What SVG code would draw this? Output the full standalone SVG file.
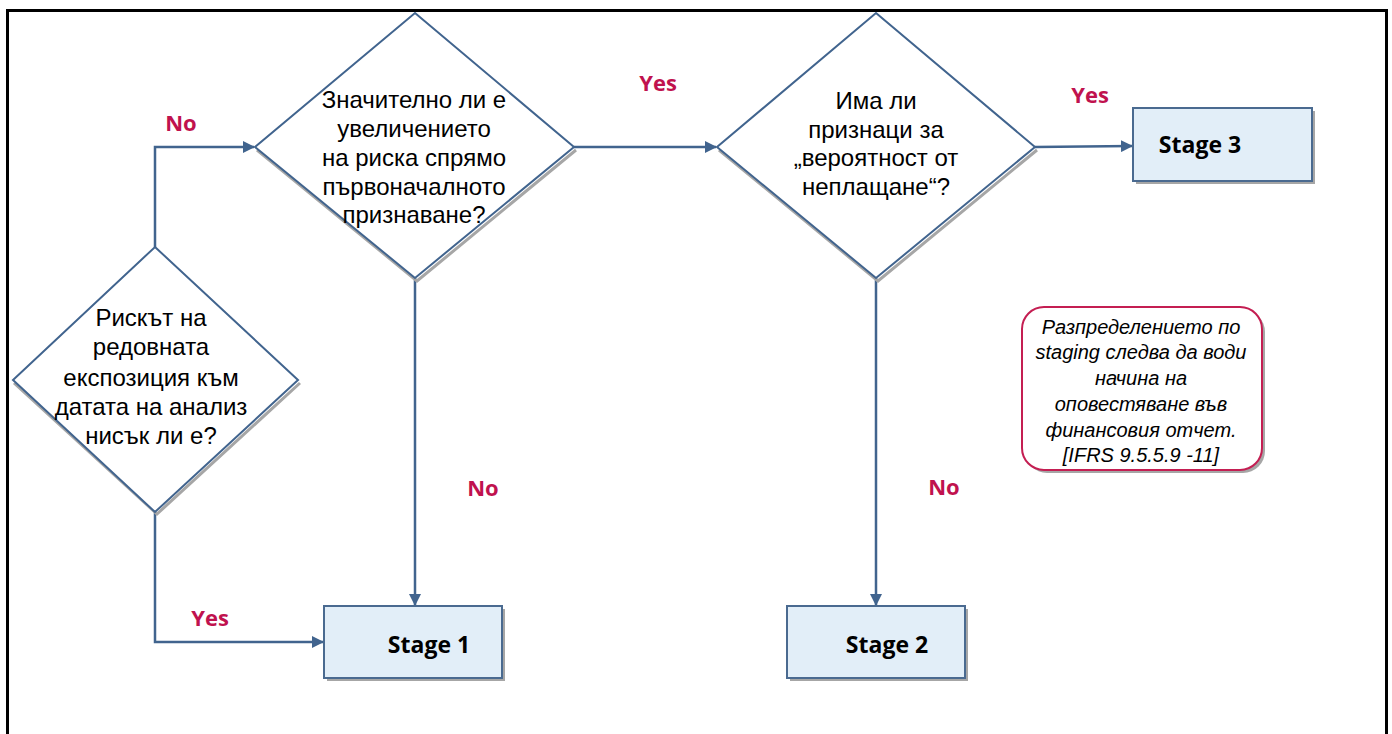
<svg xmlns="http://www.w3.org/2000/svg" width="1392" height="734" viewBox="0 0 1392 734">
<defs>
<marker id="arr" viewBox="0 0 12 12" refX="11" refY="6" markerWidth="12" markerHeight="12" markerUnits="userSpaceOnUse" orient="auto">
<path d="M0,0 L12,6 L0,12 Z" fill="#41648E"/>
</marker>
<style>
.edge{fill:none;stroke:#41648E;stroke-width:2.5}
.dia{fill:#fff;stroke:#41648E;stroke-width:2}
.shd{fill:none;stroke:#A6A6A6;stroke-width:3}
.box{fill:#E2EEF8;stroke:#4A6A90;stroke-width:2}
.boxshd{fill:#A6A6A6}
.t{font-family:"Liberation Sans",Arial,sans-serif;font-size:24px;fill:#000;text-anchor:middle}
.st{font-family:"Open Sans","Liberation Sans",sans-serif;font-size:23px;font-weight:bold;fill:#000;text-anchor:middle}
.lbl{font-family:"Open Sans","Liberation Sans",sans-serif;font-size:22px;font-weight:bold;fill:#C0124E;text-anchor:middle}
.note{font-family:"Liberation Sans",Arial,sans-serif;font-size:20px;font-style:italic;fill:#000;text-anchor:middle}
</style>
</defs>
<rect x="0" y="0" width="1392" height="734" fill="#fff"/>
<path d="M7.5,740 L7.5,10.5 L1386.5,10.5 L1386.5,740" fill="none" stroke="#000" stroke-width="3"/>

<g id="connectors">
<path class="edge" d="M155,247 L155,147 L254,147" marker-end="url(#arr)"/>
<path class="edge" d="M155,512 L155,642 L323,642" marker-end="url(#arr)"/>
<path class="edge" d="M574,147 L716,147" marker-end="url(#arr)"/>
<path class="edge" d="M415,278 L415,605" marker-end="url(#arr)"/>
<path class="edge" d="M876,278 L876,605" marker-end="url(#arr)"/>
<path class="edge" d="M1035,147 L1132,146" marker-end="url(#arr)"/>
<text class="lbl" x="181" y="131">No</text>
<text class="lbl" x="210" y="626">Yes</text>
<text class="lbl" x="658" y="91">Yes</text>
<text class="lbl" x="483" y="496">No</text>
<text class="lbl" x="1090" y="103">Yes</text>
<text class="lbl" x="944" y="495">No</text>
</g>

<g id="d1">
<path class="shd" d="M14,383 L157,514 L300,383"/>
<polygon class="dia" points="155,247 298,380 155,512 13,380"/>
<text class="t" x="151" y="326">Рискът на</text>
<text class="t" x="151" y="355">редовната</text>
<text class="t" x="151" y="386">експозиция към</text>
<text class="t" x="151" y="415">датата на анализ</text>
<text class="t" x="151" y="444">нисък ли е?</text>
</g>

<g id="d2">
<path class="shd" d="M257,150 L417,281 L576,150"/>
<polygon class="dia" points="415,13 574,147 415,278 255,147"/>
<text class="t" x="414" y="108">Значително ли е</text>
<text class="t" x="414" y="137">увеличението</text>
<text class="t" x="414" y="166">на риска спрямо</text>
<text class="t" x="414" y="195">първоначалното</text>
<text class="t" x="414" y="223">признаване?</text>
</g>

<g id="d3">
<path class="shd" d="M719,150 L878,281 L1037,150"/>
<polygon class="dia" points="876,13 1035,147 876,278 717,147"/>
<text class="t" x="876" y="109">Има ли</text>
<text class="t" x="876" y="138">признаци за</text>
<text class="t" x="876" y="166">„вероятност от</text>
<text class="t" x="876" y="195">неплащане“?</text>
</g>

<g id="stage1">
<rect class="boxshd" x="327" y="609" width="178" height="72"/>
<rect class="box" x="324" y="606" width="178" height="72"/>
<text class="st" x="429" y="653">Stage 1</text>
</g>

<g id="stage2">
<rect class="boxshd" x="790" y="609" width="178" height="72"/>
<rect class="box" x="787" y="606" width="178" height="72"/>
<text class="st" x="887" y="653">Stage 2</text>
</g>

<g id="stage3">
<rect class="boxshd" x="1136" y="111" width="179" height="73"/>
<rect class="box" x="1133" y="108" width="179" height="73"/>
<text class="st" x="1200" y="153">Stage 3</text>
</g>

<g id="note">
<rect x="1025" y="310" width="240" height="163" rx="22" fill="#A6A6A6"/>
<rect x="1022" y="307" width="240" height="163" rx="22" fill="#fff" stroke="#C41E52" stroke-width="2"/>
<text class="note" x="1141" y="334">Разпределението по</text>
<text class="note" x="1141" y="359">staging следва да води</text>
<text class="note" x="1141" y="385">начина на</text>
<text class="note" x="1141" y="411">оповестяване във</text>
<text class="note" x="1141" y="437">финансовия отчет.</text>
<text class="note" x="1141" y="462">[IFRS 9.5.5.9 -11]</text>
</g>
</svg>
